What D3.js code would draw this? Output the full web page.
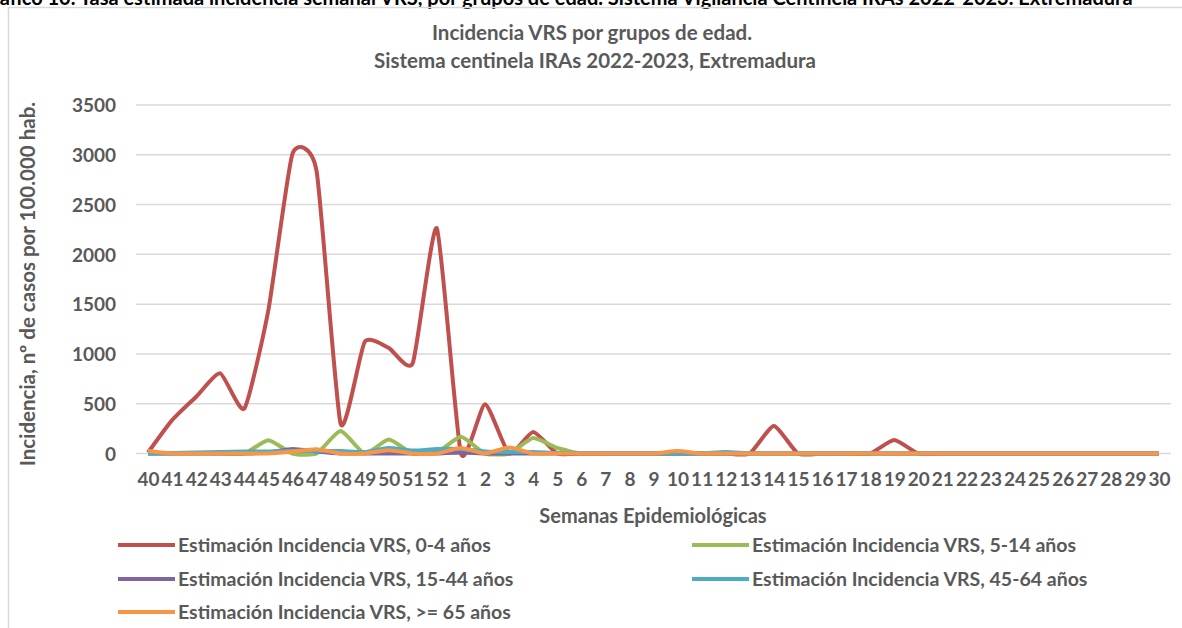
<!DOCTYPE html>
<html>
<head>
<meta charset="utf-8">
<script src="https://cdn.jsdelivr.net/npm/d3@7"></script>
<style>
  body { margin: 0; background: #fff; }
  svg { display: block; }
  text { font-family: Lato, "Open Sans", sans-serif; font-weight: bold; fill: #595959; }
</style>
</head>
<body>
<svg width="1182" height="628"></svg>
<script>
// semanas epidemiologicas 40..52, 1..30
var weeks = ["40","41","42","43","44","45","46","47","48","49","50","51","52",
  "1","2","3","4","5","6","7","8","9","10","11","12","13","14","15","16","17","18","19","20",
  "21","22","23","24","25","26","27","28","29","30"];

var age0_4   = [10, 335, 570, 805, 452, 1440, 3010, 2840, 300, 1120, 1060, 910, 2260,
  0, 495, 0, 215, 0, 0, 0, 0, 0, 0, 0, 0, 0, 275, 0, 0, 0, 0, 135, 0,
  0, 0, 0, 0, 0, 0, 0, 0, 0, 0];
var age5_14  = [0, 0, 0, 0, 0, 133, 0, 0, 225, 0, 140, 0, 10,
  167, 0, 0, 155, 55, 0, 0, 0, 0, 0, 0, 0, 0, 0, 0, 0, 0, 0, 0, 0,
  0, 0, 0, 0, 0, 0, 0, 0, 0, 0];
var age15_44 = [0, 0, 0, 0, 0, 10, 45, 20, 0, 0, 0, 0, 0,
  10, 0, 0, 0, 0, 0, 0, 0, 0, 0, 0, 0, 0, 0, 0, 0, 0, 0, 0, 0,
  0, 0, 0, 0, 0, 0, 0, 0, 0, 0];
var age45_64 = [0, 5, 10, 15, 20, 20, 25, 25, 25, 15, 55, 30, 45,
  45, 20, 15, 15, 5, 5, 0, 0, 0, 0, 0, 15, 0, 0, 0, 0, 0, 0, 0, 0,
  0, 0, 0, 0, 0, 0, 0, 0, 0, 0];
var age65    = [25, 0, 0, 0, 0, 0, 20, 43, 0, 0, 33, 0, 0,
  56, 0, 60, 0, 0, 0, 0, 0, 0, 25, 0, 0, 0, 0, 0, 0, 0, 0, 0, 0,
  0, 0, 0, 0, 0, 0, 0, 0, 0, 0];

var seriesNames = ["Estimación Incidencia VRS, 0-4 años", "Estimación Incidencia VRS, 5-14 años",
  "Estimación Incidencia VRS, 15-44 años", "Estimación Incidencia VRS, 45-64 años",
  "Estimación Incidencia VRS, >= 65 años"];
var colors = ["#C0504D", "#9BBB59", "#8064A2", "#4BACC6", "#F79646"];
var yTicks = [0, 500, 1000, 1500, 2000, 2500, 3000, 3500];

var series = [age0_4, age5_14, age15_44, age45_64, age65];

var svg = d3.select("svg");

// caption of the report, clipped at the top
svg.append("text")
  .attr("x", -22).attr("y", 5)
  .style("fill", "#000").style("font-size", "20px")
  .text("Gráfico 10. Tasa estimada incidencia semanal VRS, por grupos de edad. Sistema Vigilancia Centinela IRAs 2022-2023. Extremadura");

// chart frame
svg.append("rect")
  .attr("x", 8.5).attr("y", 7.5).attr("width", 1190).attr("height", 640)
  .attr("fill", "none").attr("stroke", "#d9d9d9").attr("stroke-width", 1.5);

var x = d3.scalePoint().domain(weeks).range([136, 1171]).padding(0.5);
var y = d3.scaleLinear().domain([0, 3500]).range([453.5, 105]);

// grid
svg.append("g").selectAll("line")
  .data(yTicks).join("line")
  .attr("x1", 136).attr("x2", 1171)
  .attr("y1", function(d) { return y(d); }).attr("y2", function(d) { return y(d); })
  .attr("stroke", "#d9d9d9").attr("stroke-width", 1.5);

var yAxis = svg.append("g")
  .attr("transform", "translate(136,0)")
  .call(d3.axisLeft(y).tickValues(yTicks).tickFormat(d3.format("d")).tickSize(0).tickPadding(20));
yAxis.select(".domain").remove();
yAxis.selectAll("text").style("font-size", "19px").style("fill", "#595959")
  .style("font-family", "Lato").attr("font-weight", "bold").attr("dy", "0.35em");

var xAxis = svg.append("g")
  .attr("transform", "translate(0,453.5)")
  .call(d3.axisBottom(x).tickSize(0).tickPadding(19));
xAxis.select(".domain").remove();
xAxis.selectAll("text").style("font-size", "19px").style("fill", "#595959")
  .style("font-family", "Lato").attr("font-weight", "bold");

var line = d3.line()
  .x(function(d, i) { return x(weeks[i]); })
  .y(function(d) { return y(d); })
  .curve(d3.curveCardinal.tension(0.45));

svg.append("g").selectAll("path")
  .data(series).join("path")
  .attr("d", line)
  .attr("fill", "none")
  .attr("stroke", function(d, i) { return colors[i]; })
  .attr("stroke-width", 4)
  .attr("stroke-linejoin", "round");

// titles
svg.append("text").attr("x", 592).attr("y", 40).attr("text-anchor", "middle")
  .style("font-size", "20.5px").text("Incidencia VRS por grupos de edad.");
svg.append("text").attr("x", 595).attr("y", 68).attr("text-anchor", "middle")
  .style("font-size", "20.5px").text("Sistema centinela IRAs 2022-2023, Extremadura");

svg.append("text").attr("x", 653).attr("y", 523).attr("text-anchor", "middle")
  .style("font-size", "20px").text("Semanas Epidemiológicas");

svg.append("text")
  .attr("transform", "translate(35,284) rotate(-90)")
  .attr("text-anchor", "middle")
  .style("font-size", "20.5px").text("Incidencia, nº de casos por 100.000 hab.");

// legend
var legendPos = [[118, 545], [692, 545], [118, 579], [692, 579], [118, 612]];
var leg = svg.append("g").selectAll("g")
  .data(seriesNames).join("g")
  .attr("transform", function(d, i) { return "translate(" + legendPos[i][0] + "," + legendPos[i][1] + ")"; });
leg.append("line")
  .attr("x1", 0).attr("x2", 57)
  .attr("stroke", function(d, i) { return colors[i]; })
  .attr("stroke-width", 4);
leg.append("text")
  .attr("x", 60).attr("dy", "0.35em")
  .style("font-size", "19.5px")
  .text(function(d) { return d; });
</script>
</body>
</html>
